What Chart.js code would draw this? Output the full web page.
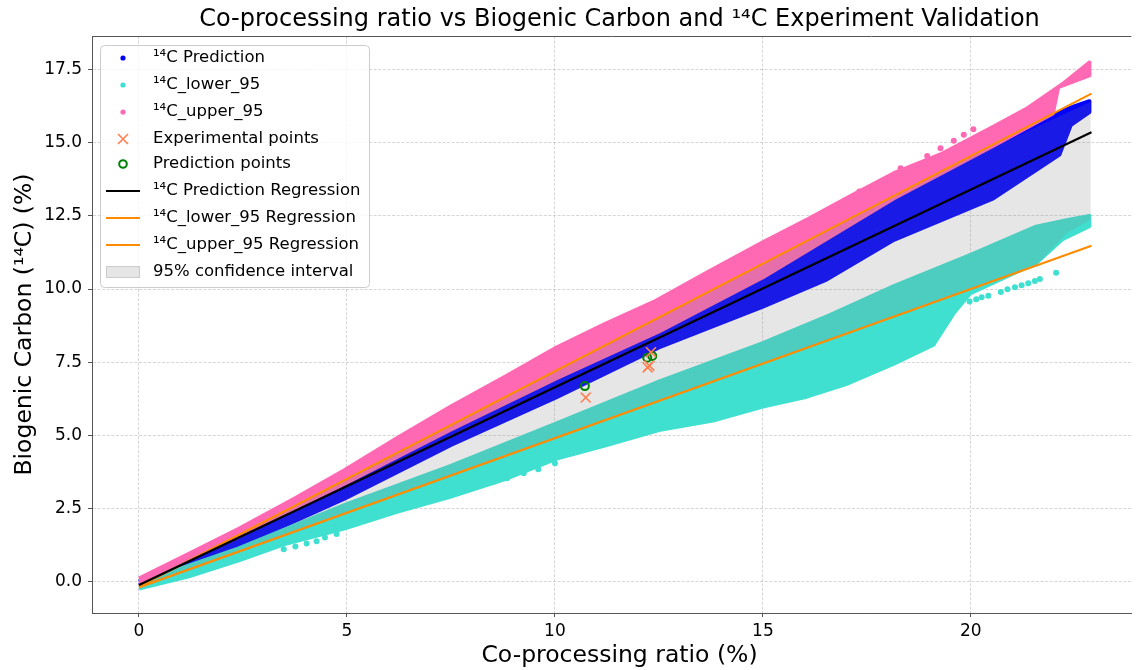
<!DOCTYPE html>
<html>
<head>
<meta charset="utf-8">
<script src="https://cdn.jsdelivr.net/npm/chart.js@4.4.1/dist/chart.umd.min.js"></script>
<style>
  html, body { margin: 0; padding: 0; background: #ffffff; }
  #wrap { width: 1140px; height: 670px; position: relative; }
</style>
</head>
<body>
<div id="wrap"><canvas id="c"></canvas></div>
<script>
// ---------------- values ----------------
const xTicks = [0, 5, 10, 15, 20];
const xTickLabels = ['0', '5', '10', '15', '20'];
const yTicks = [0, 2.5, 5, 7.5, 10, 12.5, 15, 17.5];
const yTickLabels = ['0.0', '2.5', '5.0', '7.5', '10.0', '12.5', '15.0', '17.5'];

// 14C Prediction cloud (outline of the scatter cloud)
const predTopX = [0, 2.4, 4.95, 7.5, 10.04, 12.5, 15, 18.15, 20.54, 21.97, 22.5, 22.85];
const predTopY = [0.0, 1.7, 3.5, 5.35, 7.1, 8.7, 10.6, 13.25, 15.0, 15.95, 16.25, 16.42];
const predBotX = [0, 2.4, 4.95, 7.5, 10.04, 12.5, 15, 16.5, 18.15, 20.54, 22.13, 22.4, 22.85];
const predBotY = [-0.12, 1.2, 2.84, 4.67, 6.3, 8.0, 9.4, 10.3, 11.68, 13.1, 14.6, 15.6, 16.05];

// 14C_upper_95 cloud
const upperTopX = [0, 1.2, 2.4, 3.7, 4.95, 6.2, 7.5, 8.8, 10.04, 11.2, 12.43, 13.7, 15, 16.1, 17.2, 18.15, 19.27, 20.54, 21.33, 22.2, 22.85];
const upperTopY = [0.1, 0.95, 1.8, 2.8, 3.81, 4.9, 5.98, 7.0, 8.0, 8.8, 9.6, 10.6, 11.6, 12.4, 13.25, 13.96, 14.6, 15.55, 16.15, 17.0, 17.74];
const upperBotX = [0, 2.4, 4.95, 7.5, 10.04, 12.5, 15, 18.15, 20.54, 21.97, 22.1, 22.85];
const upperBotY = [-0.05, 1.55, 3.35, 5.2, 6.95, 8.55, 10.4, 13.1, 14.9, 16.0, 16.9, 17.3];
const upperDotX = [17.32, 18.31, 18.95, 19.27, 19.59, 19.83, 20.06];
const upperDotY = [13.33, 14.13, 14.55, 14.81, 15.07, 15.27, 15.46];

// 14C_lower_95 cloud
const lowerTopX = [0, 2.4, 4.95, 7.5, 10.04, 12.5, 15, 16.6, 18.15, 19.98, 21.57, 22.3, 22.85];
const lowerTopY = [-0.05, 1.13, 2.62, 3.95, 5.41, 6.83, 8.15, 9.1, 10.1, 11.16, 12.13, 12.35, 12.5];
const lowerBotX = [0, 1.2, 2.4, 3.5, 4.95, 6.2, 7.5, 8.8, 10.04, 11.2, 12.5, 13.8, 15, 16.0, 17.0, 18.15, 19.1, 19.6, 19.98, 21.57, 22.2, 22.85];
const lowerBotY = [-0.24, 0.18, 0.72, 1.28, 1.82, 2.38, 2.9, 3.5, 4.2, 4.65, 5.18, 5.5, 5.98, 6.3, 6.75, 7.45, 8.1, 9.2, 9.85, 10.89, 11.7, 12.15];
const lowerDotX = [3.48, 3.76, 4.03, 4.27, 4.47, 4.75, 8.53, 8.85, 9.25, 9.6, 10.0, 19.97, 20.13, 20.26, 20.42, 20.72, 20.88, 21.06, 21.22, 21.38, 21.54, 21.66, 22.05];
const lowerDotY = [1.1, 1.2, 1.3, 1.38, 1.5, 1.62, 3.41, 3.53, 3.7, 3.84, 4.04, 9.57, 9.65, 9.72, 9.77, 9.9, 9.99, 10.06, 10.13, 10.2, 10.27, 10.34, 10.56];

// experiment validation
const expX = [10.74, 12.23, 12.27, 12.31];
const expY = [6.29, 7.32, 7.38, 7.84];
const predPtX = [10.72, 12.22, 12.34];
const predPtY = [6.68, 7.65, 7.71];

// regression lines (end points)
const regX = [0, 22.9];
const regPredY = [-0.12, 15.36];
const regLowerY = [-0.2, 11.48];
const regUpperY = [-0.17, 16.68];

// 95% confidence interval band
const ciTopX = [0, 5, 10, 15, 20, 22.88];
const ciTopY = [-0.12, 3.5, 7.15, 10.85, 14.5, 16.4];
const ciBotX = [0, 5, 10, 15, 20, 21.6, 22.3, 22.88];
const ciBotY = [-0.2, 2.35, 4.91, 7.46, 10.0, 10.85, 11.9, 12.36];

const seriesNames = [
  '¹⁴C Prediction', '¹⁴C_lower_95', '¹⁴C_upper_95', 'Experimental points', 'Prediction points',
  '¹⁴C Prediction Regression', '¹⁴C_lower_95 Regression', '¹⁴C_upper_95 Regression', '95% confidence interval'
];
const titleText = 'Co-processing ratio vs Biogenic Carbon and ¹⁴C Experiment Validation';
const xLabel = 'Co-processing ratio (%)';
const yLabel = 'Biogenic Carbon (¹⁴C) (%)';

// ---------------- helpers ----------------
const pts = (xs, ys) => xs.map((x, i) => ({ x: x, y: ys[i] }));
const poly = (tx, ty, bx, by) => pts(tx, ty).concat(pts(bx, by).reverse());

const C_BLUE = '#0000ff', C_TURQ = '#40e0d0', C_PINK = '#ff69b4';
const C_CORAL = '#ff7f50', C_GREEN = '#008000', C_ORANGE = '#ff8c00';
const C_CI = 'rgba(128,128,128,0.2)';
const FONT = "'DejaVu Sans', sans-serif";
const GRID = 'rgba(160,160,160,0.55)';

function polyDs(data, color, order) {
  return { data, showLine: true, fill: 'shape', backgroundColor: color, borderColor: color,
    borderWidth: 4, borderJoinStyle: 'round', pointRadius: 0, pointHoverRadius: 0, tension: 0, order };
}
function dotDs(data, color, order) {
  return { data, showLine: false, pointRadius: 3, pointBackgroundColor: color, pointBorderWidth: 0,
    pointBorderColor: color, backgroundColor: color, borderColor: color, order };
}
function lineDs(data, color, order) {
  return { data, showLine: true, fill: false, borderColor: color, borderWidth: 2.2, pointRadius: 0, tension: 0, order };
}

const datasets = [
  { data: pts(expX, expY), showLine: false, pointStyle: 'crossRot', pointRadius: 7, pointBorderColor: C_CORAL,
    pointBorderWidth: 1.6, borderColor: C_CORAL, order: 0 },
  { data: pts(predPtX, predPtY), showLine: false, pointStyle: 'circle', pointRadius: 4, pointBorderColor: C_GREEN,
    pointBackgroundColor: 'rgba(0,0,0,0)', pointBorderWidth: 2, borderColor: C_GREEN, order: 1 },
  lineDs(pts(regX, regPredY), '#000000', 2),
  lineDs(pts(regX, regLowerY), C_ORANGE, 3),
  lineDs(pts(regX, regUpperY), C_ORANGE, 4),
  { data: poly(ciTopX, ciTopY, ciBotX, ciBotY), showLine: true, fill: 'shape', backgroundColor: C_CI,
    borderColor: 'rgba(0,0,0,0)', borderWidth: 0, pointRadius: 0, tension: 0, order: 5 },
  dotDs(pts(upperDotX, upperDotY), C_PINK, 6),
  polyDs(poly(upperTopX, upperTopY, upperBotX, upperBotY), C_PINK, 7),
  dotDs(pts(lowerDotX, lowerDotY), C_TURQ, 8),
  polyDs(poly(lowerTopX, lowerTopY, lowerBotX, lowerBotY), C_TURQ, 9),
  polyDs(poly(predTopX, predTopY, predBotX, predBotY), C_BLUE, 10)
];

const legendRows = [
  { kind: 'dot', color: C_BLUE, y: 58 },
  { kind: 'dot', color: C_TURQ, y: 85 },
  { kind: 'dot', color: C_PINK, y: 112 },
  { kind: 'x', color: C_CORAL, y: 139 },
  { kind: 'o', color: C_GREEN, y: 164 },
  { kind: 'line', color: '#000000', y: 191 },
  { kind: 'line', color: C_ORANGE, y: 218 },
  { kind: 'line', color: C_ORANGE, y: 245 },
  { kind: 'patch', color: C_CI, y: 272 }
];

const overlay = {
  id: 'overlay',
  afterDraw(chart) {
    const ctx = chart.ctx, a = chart.chartArea;
    ctx.save();
    // top spine
    ctx.strokeStyle = '#555555'; ctx.lineWidth = 1;
    ctx.beginPath(); ctx.moveTo(a.left, a.top + 0.5); ctx.lineTo(a.right, a.top + 0.5); ctx.stroke();
    // title & axis labels
    ctx.fillStyle = '#000000';
    ctx.textAlign = 'center'; ctx.textBaseline = 'middle';
    ctx.font = '24px ' + FONT;
    ctx.fillText(titleText, 619.5, 20);
    ctx.font = '23.5px ' + FONT;
    ctx.fillText(xLabel, 619.5, 656);
    ctx.save(); ctx.translate(25, 324.5); ctx.rotate(-Math.PI / 2); ctx.fillText(yLabel, 0, 0); ctx.restore();
    // legend
    const lx = 100.5, ly = 45.5, lw = 269, lh = 242;
    ctx.beginPath(); ctx.roundRect(lx, ly, lw, lh, 4);
    ctx.fillStyle = 'rgba(255,255,255,0.8)'; ctx.fill();
    ctx.strokeStyle = '#cccccc'; ctx.lineWidth = 1; ctx.stroke();
    ctx.font = '16.5px ' + FONT; ctx.textAlign = 'left'; ctx.textBaseline = 'middle';
    legendRows.forEach((r, i) => {
      const cx = 123, cy = r.y;
      if (r.kind === 'dot') {
        ctx.fillStyle = r.color; ctx.beginPath(); ctx.arc(cx, cy, 2.6, 0, Math.PI * 2); ctx.fill();
      } else if (r.kind === 'x') {
        ctx.strokeStyle = r.color; ctx.lineWidth = 1.6; ctx.beginPath();
        ctx.moveTo(cx - 5, cy - 5); ctx.lineTo(cx + 5, cy + 5); ctx.moveTo(cx - 5, cy + 5); ctx.lineTo(cx + 5, cy - 5); ctx.stroke();
      } else if (r.kind === 'o') {
        ctx.strokeStyle = r.color; ctx.lineWidth = 2; ctx.beginPath(); ctx.arc(cx, cy, 3.8, 0, Math.PI * 2); ctx.stroke();
      } else if (r.kind === 'line') {
        ctx.strokeStyle = r.color; ctx.lineWidth = 2.2; ctx.beginPath(); ctx.moveTo(106, cy); ctx.lineTo(140, cy); ctx.stroke();
      } else {
        ctx.fillStyle = r.color; ctx.fillRect(106, cy - 6, 34, 12);
        ctx.strokeStyle = 'rgba(128,128,128,0.25)'; ctx.lineWidth = 1; ctx.strokeRect(106.5, cy - 5.5, 33, 11);
      }
      ctx.fillStyle = '#000000';
      ctx.fillText(seriesNames[i], 153, cy);
    });
    ctx.restore();
  }
};

Chart.defaults.font.family = FONT;
Chart.defaults.color = '#000000';

new Chart(document.getElementById('c'), {
  type: 'line',
  data: { datasets },
  options: {
    responsive: true,
    maintainAspectRatio: false,
    animation: false,
    events: [],
    layout: { padding: { top: 36, right: 1, left: 0, bottom: 0 } },
    plugins: { legend: { display: false }, tooltip: { enabled: false }, title: { display: false } },
    scales: {
      x: {
        type: 'linear', min: -1.13, max: 23.86,
        afterBuildTicks(s) { s.ticks = xTicks.map(v => ({ value: v })); },
        afterFit(s) { s.height = 57; },
        ticks: { autoSkip: false, maxRotation: 0, padding: 4, font: { size: 17 }, color: '#000000',
          callback: (v) => xTickLabels[xTicks.indexOf(v)] },
        grid: { color: GRID, lineWidth: 0.8, tickLength: 4, tickColor: '#555555', tickWidth: 1 },
        border: { display: true, color: '#555555', width: 1, dash: [3, 1.6] }
      },
      y: {
        type: 'linear', min: -1.077, max: 18.65,
        afterBuildTicks(s) { s.ticks = yTicks.map(v => ({ value: v })); },
        afterFit(s) { s.width = 92; },
        ticks: { autoSkip: false, padding: 6, font: { size: 17 }, color: '#000000',
          callback: (v) => yTickLabels[yTicks.indexOf(v)] },
        grid: { color: GRID, lineWidth: 0.8, tickLength: 4, tickColor: '#555555', tickWidth: 1 },
        border: { display: true, color: '#555555', width: 1, dash: [3, 1.6] }
      }
    }
  },
  plugins: [overlay]
});
</script>
</body>
</html>
